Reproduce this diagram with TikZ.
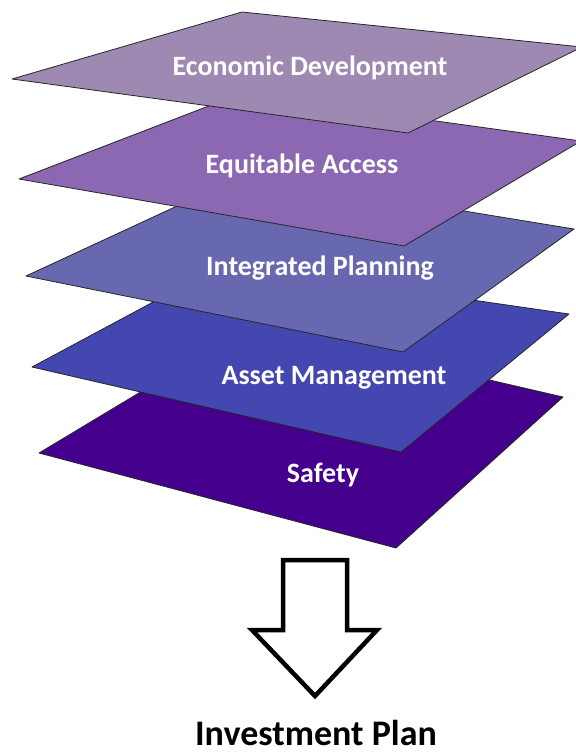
\documentclass[tikz,border=0pt]{standalone}
\usepackage{fontspec}
\setmainfont{Carlito}

\definecolor{lilla}{RGB}{157,137,177}
\definecolor{viola}{RGB}{141,104,178}
\definecolor{pervinca}{RGB}{104,104,176}
\definecolor{blu}{RGB}{68,71,176}
\definecolor{indaco}{RGB}{68,0,140}

\begin{document}
\begin{tikzpicture}[
    x=1pt, y=-1pt,
    strato/.style={draw=black!85, line width=0.8pt, line join=round},
    etichetta/.style={text=white, anchor=base, inner sep=0pt,
                      font=\bfseries\fontsize{28}{30}\selectfont},
    freccia/.style={draw=black, fill=white, line width=4.5pt, line join=miter}]

  \useasboundingbox (0,0) rectangle (576,753);

  % strati, dal basso verso l'alto (tagliati sul bordo destro)
  \begin{scope}
    \clip (0,0) rectangle (576,753);
    \filldraw[strato, fill=indaco]   (39,453)  -- (252,325) -- (563,397) -- (396,548) -- cycle;
    \filldraw[strato, fill=blu]      (32,367)  -- (224,264) -- (569,314) -- (401,452) -- cycle;
    \filldraw[strato, fill=pervinca] (26,276)  -- (244,175) -- (574,229) -- (403,352) -- cycle;
    \filldraw[strato, fill=viola]    (19,179)  -- (240,94)  -- (581,141) -- (404,246) -- cycle;
    \filldraw[strato, fill=lilla]    (12,79)   -- (242,12)  -- (582,47)  -- (408,133) -- cycle;
  \end{scope}

  \node[etichetta] (sicurezza)  at (323,482) {Safety};
  \node[etichetta] (patrimonio) at (334,384) {Asset Management};
  \node[etichetta] (pianifica)  at (320,275) {Integrated Planning};
  \node[etichetta] (accesso)    at (302,173) {Equitable Access};
  \node[etichetta] (economia)   at (310,75)  {Economic Development};

  % freccia verso il piano
  \filldraw[freccia] (283,560) -- (347,560) -- (347,630) -- (377,630)
                     -- (315,696) -- (252,630) -- (283,630) -- cycle;

  \node[anchor=base, inner sep=0pt, font=\bfseries\fontsize{36}{40}\selectfont]
    (piano) at (316,745) {Investment Plan};

\end{tikzpicture}
\end{document}
